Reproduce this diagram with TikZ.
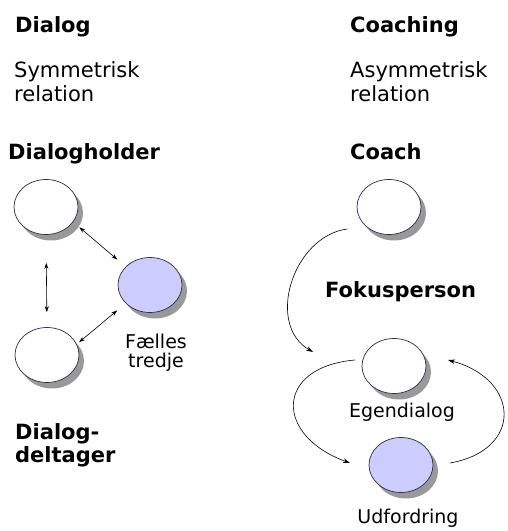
\documentclass[tikz,border=0pt]{standalone}
\usepackage{fontspec}
\setmainfont{DejaVu Sans}
\usetikzlibrary{shapes.geometric,shadows,arrows.meta}
\definecolor{lavender}{RGB}{204,204,255}
\definecolor{rim}{RGB}{45,45,75}

\begin{document}
\begin{tikzpicture}
    [x=1pt,y=1pt,
    person/.style={ellipse,minimum width=64pt,minimum height=55pt,inner sep=0pt,draw=rim,line width=0.7pt,fill=white,
      drop shadow={shadow xshift=5pt,shadow yshift=-6pt,fill=black!40,opacity=1}},
    third/.style={person,fill=lavender},
    head/.style={anchor=base west,inner sep=0pt,font=\bfseries\fontsize{21}{23}\selectfont,align=left},
    note/.style={anchor=base west,inner sep=0pt,font=\fontsize{21}{24}\selectfont,align=left},
    caption/.style={anchor=base,inner sep=0pt,font=\fontsize{19}{19}\selectfont,align=center},
    link/.style={{Stealth[length=6pt,width=4pt]}-{Stealth[length=6pt,width=4pt]},line width=0.6pt},
    flow/.style={-{Stealth[length=7pt,width=4.5pt]},line width=0.6pt}]

    \useasboundingbox (0,0) rectangle (508,531);

    % headings (base = last line)
    \node[head] (dialog)   at (15,498)  {Dialog};
    \node[head] (coaching) at (350,498) {Coaching};
    \node[note] (sym)      at (14,429)  {Symmetrisk\\relation};
    \node[note] (asym)     at (350,429) {Asymmetrisk\\relation};
    \node[head] (holder)   at (8,371)   {Dialogholder};
    \node[head] (coachtxt) at (350,371) {Coach};
    \node[head] (deltager) at (15,68)   {Dialog-\\deltager};
    \node[head] (fokustxt) at (325,233) {Fokusperson};

    % dialog side
    \node[person] (dh) at (46,324)  {};
    \node[person] (dd) at (47,176)  {};
    \node[third]  (ft) at (150,246) {};
    \node[caption] (fttxt) at (156,163) {Fælles\\tredje};

    \draw[link,shorten <=28pt,shorten >=15pt] (dh.south) -- (dd.north);
    \draw[link,shorten <=8pt,shorten >=11pt] (dh.-29) -- (ft.143);
    \draw[link,shorten <=3pt,shorten >=11pt] (dd.20) -- (ft.217);

    % coaching side
    \node[person] (coach) at (389,324) {};
    \node[person] (fokus) at (394,165) {};
    \node[third]  (udf)   at (401,66)  {};
    \node[caption] (egen)   at (402,113) {Egendialog};
    \node[caption] (udftxt) at (408,8)   {Udfordring};

    \draw[flow] ([shift={(-42pt,-22pt)}]coach.center) to[out=188,in=150,looseness=1.1] ([shift={(-81pt,14pt)}]fokus.center);
    \draw[flow] ([shift={(-39pt,6pt)}]fokus.center) to[out=185,in=160,looseness=2] ([shift={(-51pt,2pt)}]udf.center);
    \draw[flow] ([shift={(49pt,2pt)}]udf.center) to[out=10,in=345,looseness=1.85] ([shift={(54pt,6pt)}]fokus.center);
\end{tikzpicture}
\end{document}
